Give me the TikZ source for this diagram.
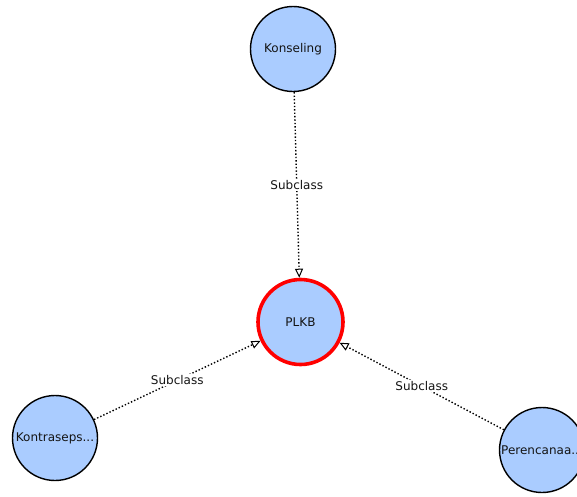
\documentclass[tikz,border=0pt]{standalone}
\usepackage{fontspec}
\setmainfont{DejaVu Sans}
\usetikzlibrary{arrows.meta}
\definecolor{classblue}{RGB}{170,204,255}
\definecolor{textgray}{RGB}{20,20,20}
\begin{document}
\begin{tikzpicture}[x=1pt,y=-1pt,
    every node/.style={font=\fontsize{12}{14}\selectfont, text=textgray},
    cls/.style={circle, draw=black, line width=1.4pt, fill=classblue, minimum size=85pt, inner sep=0pt},
    focus/.style={cls, draw=red, line width=3.6pt},
    subclass/.style={line width=1.4pt, dotted, -{Triangle[open, length=9pt, width=8pt, line width=1pt]}},
    lbl/.style={fill=white, inner sep=1.5pt}]
    \useasboundingbox (0, 0) rectangle (577, 496);
    \node[cls] (kons) at (293, 49) {Konseling};
    \node[focus] (plkb) at (300.5, 322) {PLKB};
    \node[cls] (kontra) at (55, 438) {Kontraseps...};
    \node[cls] (renc) at (542, 450) {Perencanaa...};
    \draw [subclass] (kons) to node[lbl] {Subclass} (plkb);
    \draw [subclass] (kontra) to node[lbl, pos=0.5] {Subclass} (plkb);
    \draw [subclass] (renc) to node[lbl, pos=0.5] {Subclass} (plkb);
  \end{tikzpicture}
\end{document}
